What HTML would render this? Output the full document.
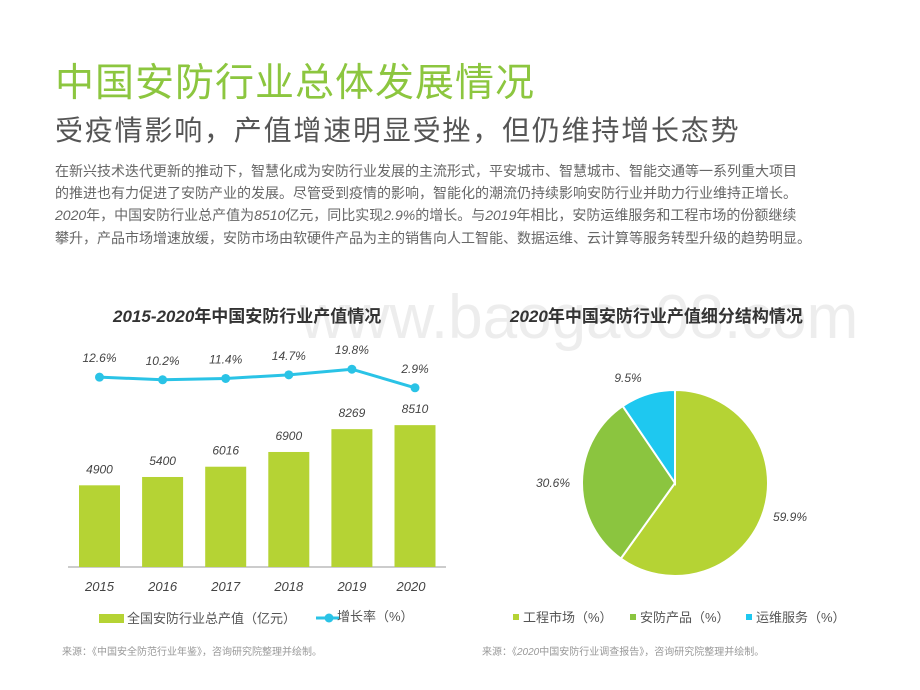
<!DOCTYPE html>
<html><head><meta charset="utf-8">
<style>
body{margin:0;width:920px;height:690px;background:#fff;position:relative;overflow:hidden;font-family:"Liberation Sans","Noto Sans CJK SC",sans-serif;}
.abs{position:absolute;white-space:nowrap;}
#title{left:55px;top:52px;font-size:39px;color:#8cc63f;letter-spacing:1px;}
#sub{left:55px;top:109px;font-size:28px;color:#555;letter-spacing:1.8px;}
#para{left:55px;top:160px;font-size:14px;color:#666;line-height:22.2px;}
#wm{left:300px;top:282px;font-size:62px;color:#ededed;}
.ctitle{font-size:17px;font-weight:bold;color:#333;}
.src{font-size:10px;color:#999;}
</style></head><body>
<div id="wm" class="abs">www.baogao08.com</div>
<div id="title" class="abs">中国安防行业总体发展情况</div>
<div id="sub" class="abs">受疫情影响，产值增速明显受挫，但仍维持增长态势</div>
<div id="para" class="abs">在新兴技术迭代更新的推动下，智慧化成为安防行业发展的主流形式，平安城市、智慧城市、智能交通等一系列重大项目<br>的推进也有力促进了安防产业的发展。尽管受到疫情的影响，智能化的潮流仍持续影响安防行业并助力行业维持正增长。<br><i>2020</i>年，中国安防行业总产值为<i>8510</i>亿元，同比实现<i>2.9%</i>的增长。与<i>2019</i>年相比，安防运维服务和工程市场的份额继续<br>攀升，产品市场增速放缓，安防市场由软硬件产品为主的销售向人工智能、数据运维、云计算等服务转型升级的趋势明显。</div>

<div class="abs ctitle" style="left:113px;top:302px;"><i>2015-2020</i>年中国安防行业产值情况</div>
<div class="abs ctitle" style="left:510px;top:302px;"><i>2020</i>年中国安防行业产值细分结构情况</div>

<svg id="bar" width="920" height="690" style="position:absolute;left:0;top:0"></svg>

<div class="abs src" style="left:62px;top:643px;">来源：《中国安全防范行业年鉴》，咨询研究院整理并绘制。</div>
<div class="abs src" style="left:482px;top:643px;">来源：《<i>2020</i>中国安防行业调查报告》，咨询研究院整理并绘制。</div>

<script>
const years=["2015","2016","2017","2018","2019","2020"];
const output=[4900,5400,6016,6900,8269,8510];
const growth=[12.6,10.2,11.4,14.7,19.8,2.9];
const growthLabels=["12.6%","10.2%","11.4%","14.7%","19.8%","2.9%"];
const pieCats=["工程市场（%）","安防产品（%）","运维服务（%）"];
const pieVals=[59.9,30.6,9.5];

const NS="http://www.w3.org/2000/svg";
const svg=document.getElementById('bar');
function mk(t,a,txt){const e=document.createElementNS(NS,t);for(const k in a)e.setAttribute(k,a[k]);if(txt!=null)e.textContent=txt;svg.appendChild(e);return e;}
const baseY=567,xs=i=>99.5+i*63.1,ys=v=>baseY-v*0.01667,gy=v=>391-v*1.1;
const bw=41;
const axis=mk('line',{x1:68,x2:446,y1:baseY,y2:baseY,stroke:'#999','stroke-width':1});


output.forEach((v,i)=>{
  const r=mk('rect',{x:xs(i)-bw/2,y:ys(v),width:bw,height:baseY-ys(v),fill:'#b5d334'});
  
  
  const t=mk('text',{x:xs(i),y:ys(v)-12,'text-anchor':'middle','font-size':12,fill:'#444','font-style':'italic'},String(v));
  
  
  const yl=mk('text',{x:xs(i)+(i==5?-4:0),y:591,'text-anchor':'middle','font-size':13,fill:'#444','font-style':'italic'},years[i]);
  
  
});
const pl=mk('polyline',{points:growth.map((v,i)=>xs(i)+','+gy(v)).join(' '),fill:'none',stroke:'#2ac3e6','stroke-width':3});


growth.forEach((v,i)=>{
  const c=mk('circle',{cx:xs(i),cy:gy(v),r:4.5,fill:'#2ac3e6'});
  
  
  const t=mk('text',{x:xs(i),y:gy(v)-15,'text-anchor':'middle','font-size':12,fill:'#444','font-style':'italic'},growthLabels[i]);
  
  
});
const lr=mk('rect',{x:99,y:614,width:25,height:9,fill:'#b5d334'});


const lt=mk('text',{x:127,y:623,'font-size':13,fill:'#555'},'全国安防行业总产值（亿元）');


const ll=mk('line',{x1:316,x2:340,y1:618,y2:618,stroke:'#2ac3e6','stroke-width':3});


const lc=mk('circle',{cx:329,cy:618,r:4.5,fill:'#2ac3e6'});


const lt2=mk('text',{x:337,y:621,'font-size':13,fill:'#555'},'增长率（%）');



const cx=675,cy=483,R=93,colors=['#b5d334','#8bc53f','#1ec8f0'];
const labelPos=[[790,521],[553,487],[628,382]];
const pieLabels=["59.9%","30.6%","9.5%"];
const tot=pieVals.reduce((a,b)=>a+b,0);
let ang=0;
pieVals.forEach((v,i)=>{
  const a0=ang,a1=ang+v/tot*2*Math.PI;ang=a1;
  const x0=cx+R*Math.sin(a0),y0=cy-R*Math.cos(a0),x1=cx+R*Math.sin(a1),y1=cy-R*Math.cos(a1);
  const p=mk('path',{d:`M${cx},${cy}L${x0},${y0}A${R},${R} 0 ${a1-a0>Math.PI?1:0} 1 ${x1},${y1}Z`,fill:colors[i],stroke:'#fff','stroke-width':2});
  
  
  const t=mk('text',{x:labelPos[i][0],y:labelPos[i][1],'text-anchor':'middle','font-size':12,fill:'#444','font-style':'italic'},pieLabels[i]);
  
  
  const lx=[513,630,746][i];
  const s=mk('rect',{x:lx,y:614,width:6,height:6,fill:colors[i]});
  
  
  const lt3=mk('text',{x:lx+10,y:622,'font-size':13,fill:'#555'},pieCats[i]);
  
  
});
</script>
</body></html>
